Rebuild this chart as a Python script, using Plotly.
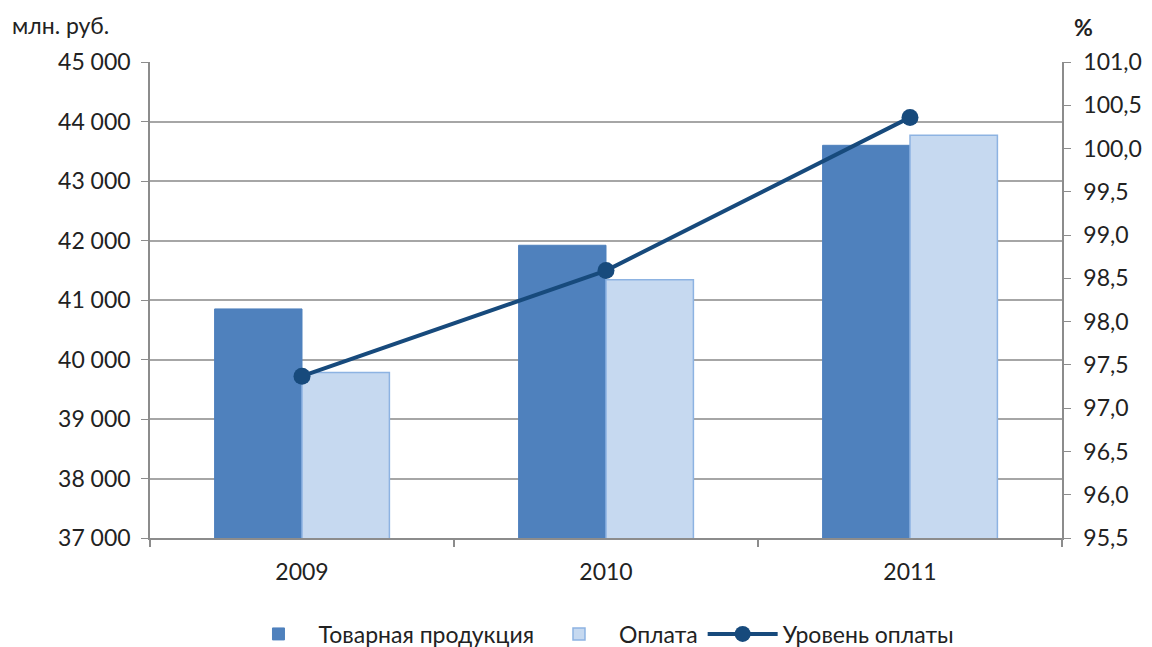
import plotly.graph_objects as go

years = ["2009", "2010", "2011"]
tovar = [40850, 41920, 43600]
oplata = [39780, 41340, 43770]
uroven = [97.37, 98.59, 100.36]

left_vals = [37000, 38000, 39000, 40000, 41000, 42000, 43000, 44000, 45000]
left_text = ["37 000", "38 000", "39 000", "40 000", "41 000", "42 000", "43 000", "44 000", "45 000"]
right_vals = [95.5, 96.0, 96.5, 97.0, 97.5, 98.0, 98.5, 99.0, 99.5, 100.0, 100.5, 101.0]
right_text = ["95,5", "96,0", "96,5", "97,0", "97,5", "98,0", "98,5", "99,0", "99,5", "100,0", "100,5", "101,0"]

FONT = "Lato, 'Open Sans', sans-serif"
FS = 23

fig = go.Figure()
fig.add_trace(go.Bar(x=years, y=tovar, name="Товарная продукция",
                     marker=dict(color="#4F81BD", line=dict(color="#4F81BD", width=1))))
fig.add_trace(go.Bar(x=years, y=oplata, name="Оплата",
                     marker=dict(color="#C6D9F0", line=dict(color="#8DB3E2", width=1.5))))
fig.add_trace(go.Scatter(x=years, y=uroven, name="Уровень оплаты", yaxis="y2",
                         mode="lines+markers",
                         line=dict(color="#174A7C", width=4),
                         marker=dict(color="#174A7C", size=17)))

fig.update_layout(
    width=1152, height=647,
    margin=dict(l=142, r=98, t=54, b=117, autoexpand=False),
    paper_bgcolor="white", plot_bgcolor="white",
    barmode="group", bargap=0.425, bargroupgap=0,
    font=dict(family=FONT, size=FS, color="#222222"),
    showlegend=True,
    legend=dict(orientation="h", x=0.513, xanchor="center", xref="container",
                y=0.0325, yanchor="middle", yref="container",
                font=dict(size=FS), traceorder="normal", itemwidth=70),
    xaxis=dict(showline=True, linecolor="#8C8C8C", linewidth=2, ticks="outside",
               tickson="boundaries", ticklen=7, tickcolor="#8C8C8C", tickwidth=1.5,
               showgrid=False, mirror=False, automargin=False, ticklabelstandoff=12),
    yaxis=dict(range=[37000, 45000], tickvals=left_vals, ticktext=left_text,
               showline=True, linecolor="#8C8C8C", linewidth=1.5, ticks="outside",
               ticklen=7, tickcolor="#8C8C8C", showgrid=True, gridcolor="#A6A6A6",
               gridwidth=1.5, zeroline=False, automargin=False, ticklabelstandoff=6),
    yaxis2=dict(range=[95.5, 101.0], tickvals=right_vals, ticktext=right_text,
                overlaying="y", side="right", showline=True, linecolor="#8C8C8C",
                linewidth=1.5, ticks="outside", ticklen=7, tickcolor="#8C8C8C",
                showgrid=False, zeroline=False, automargin=False, ticklabelstandoff=8),
    annotations=[
        dict(text="млн. руб.", xref="paper", yref="paper", x=-0.1536, y=1.0777,
             xanchor="left", yanchor="middle", showarrow=False, font=dict(size=FS)),
        dict(text="<b>%</b>", xref="paper", yref="paper", x=1.0236, y=1.0735,
             xanchor="center", yanchor="middle", showarrow=False, font=dict(size=FS)),
    ],
)

fig.write_html("out.html")
